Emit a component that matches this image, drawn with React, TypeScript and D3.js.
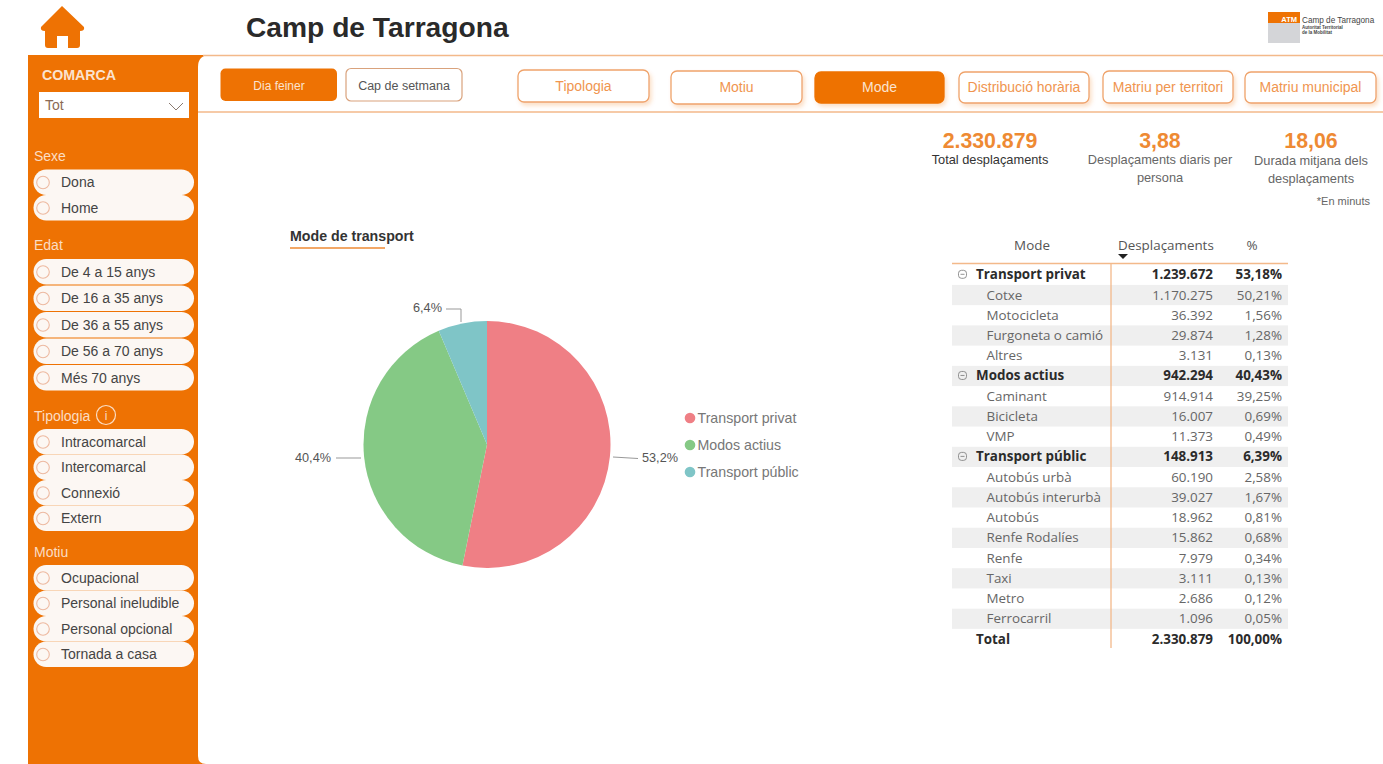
import React from "react";
import * as d3 from "d3";

const ORANGE = "#EE7203";
const LINE = "#F3B98A";
const SANS = "'Liberation Sans', Arial, sans-serif";
const TABLE_FONT = "'Open Sans', 'Noto Sans', sans-serif";

const pieLabels = ["Transport privat", "Modos actius", "Transport públic"];
const pieValues = [1239672, 942294, 148913];
const pieText = ["53,2%", "40,4%", "6,4%"];
const pieColors = ["#EF7F85", "#85C985", "#7FC5C7"];

const rowNames = ["Transport privat", "Cotxe", "Motocicleta", "Furgoneta o camió", "Altres", "Modos actius", "Caminant", "Bicicleta", "VMP", "Transport públic", "Autobús urbà", "Autobús interurbà", "Autobús", "Renfe Rodalíes", "Renfe", "Taxi", "Metro", "Ferrocarril", "Total"];
const rowValues = ["1.239.672", "1.170.275", "36.392", "29.874", "3.131", "942.294", "914.914", "16.007", "11.373", "148.913", "60.190", "39.027", "18.962", "15.862", "7.979", "3.111", "2.686", "1.096", "2.330.879"];
const rowPercents = ["53,18%", "50,21%", "1,56%", "1,28%", "0,13%", "40,43%", "39,25%", "0,69%", "0,49%", "6,39%", "2,58%", "1,67%", "0,81%", "0,68%", "0,34%", "0,13%", "0,12%", "0,05%", "100,00%"];
const groupRows = ["Transport privat", "Modos actius", "Transport públic"];

const filterGroups = [
  { title: "Sexe", y: 156, first: 182.5, items: ["Dona", "Home"] },
  { title: "Edat", y: 245, first: 272, items: ["De 4 a 15 anys", "De 16 a 35 anys", "De 36 a 55 anys", "De 56 a 70 anys", "Més 70 anys"] },
  { title: "Tipologia", y: 416, first: 442, items: ["Intracomarcal", "Intercomarcal", "Connexió", "Extern"] },
  { title: "Motiu", y: 552, first: 578, items: ["Ocupacional", "Personal ineludible", "Personal opcional", "Tornada a casa"] },
];
const filterSteps = [25.5, 26.5, 25.5, 25.5];

const navButtons = [
  { label: "Tipologia", x: 518, w: 131, y: 70, h: 32, active: false },
  { label: "Motiu", x: 671, w: 131, y: 71, h: 33, active: false },
  { label: "Mode", x: 815, w: 129, y: 72, h: 31, active: true },
  { label: "Distribució horària", x: 959, w: 130, y: 72, h: 31, active: false },
  { label: "Matriu per territori", x: 1103, w: 130, y: 71, h: 32, active: false },
  { label: "Matriu municipal", x: 1245, w: 131, y: 72, h: 31, active: false },
];

const kpis = [
  { value: "2.330.879", x: 990, lines: ["Total desplaçaments"], dark: true },
  { value: "3,88", x: 1160, lines: ["Desplaçaments diaris per", "persona"], dark: false },
  { value: "18,06", x: 1311, lines: ["Durada mitjana dels", "desplaçaments"], dark: false },
];

const legendY = [418, 445, 472];

export default function App() {
  const cx = 487, cy = 444.5, r = 123.5;
  const arcs = d3.pie<number>().sort(null)(pieValues);
  const arc = d3.arc<d3.PieArcDatum<number>>().innerRadius(0).outerRadius(r);
  const rowY = d3.scaleLinear().domain([0, rowNames.length - 1]).range([274.8, 639]);
  const rowH = 20.22;

  return (
    <svg width={1383} height={764} style={{ position: "fixed", left: 0, top: 0, background: "#fff" }} fontFamily={SANS}>
      <defs>
        <filter id="soft" x="-20%" y="-20%" width="140%" height="160%">
          <feDropShadow dx="2" dy="3" stdDeviation="2" floodColor="#EE7203" floodOpacity="0.22" />
        </filter>
      </defs>

      {/* header */}
      <path d="M41 27 L62 6 L84 27 Q85 31 80 31 L80 45 Q80 48 77 48 L68 48 L68 36 L57 36 L57 48 L48 48 Q45 48 45 45 L45 31 Q40 31 41 27 Z" fill={ORANGE} />
      <text x={246} y={37} fontSize={28.2} fontWeight={700} fill="#2a2a2a">Camp de Tarragona</text>
      <rect x={1268} y={12} width={32} height={31} fill="#D4D5D8" />
      <rect x={1268} y={12} width={32} height={11} fill={ORANGE} />
      <text x={1297} y={22} textAnchor="end" fontSize={7.5} fontWeight={700} fill="#fff">ATM</text>
      <text x={1302} y={23} fontSize={8.2} fill="#444">Camp de Tarragona</text>
      <text x={1302} y={29} fontSize={4.5} fontWeight={700} fill="#444">Autoritat Territorial</text>
      <text x={1302} y={34} fontSize={4.5} fontWeight={700} fill="#444">de la Mobilitat</text>

      {/* sidebar and panel */}
      <rect x={28} y={55} width={180} height={709} fill={ORANGE} />
      <path d="M198 764 L198 67 Q198 55 210 55 L1383 55 L1383 764 L206 764 Q198 764 198 756 Z" fill="#fff" />
      <line x1={203} x2={1383} y1={55.5} y2={55.5} stroke={LINE} strokeWidth={1.5} />
      <line x1={198} x2={1383} y1={112} y2={112} stroke={LINE} strokeWidth={1.5} />

      <text x={42} y={80} fontSize={14.2} fontWeight={700} fill="#FBE3CF">COMARCA</text>
      <rect x={39} y={92} width={150} height={26} fill="#fff" />
      <text x={45} y={110} fontSize={14} fill="#8A6A55">Tot</text>
      <path d="M169 103 L176 110 L183 103" fill="none" stroke="#8A7A70" strokeWidth={1} />

      {filterGroups.map((g, gi) => (
        <g key={g.title}>
          <text x={34} y={g.y + 5} fontSize={14} fill="#FBDDC4">{g.title}</text>
          {g.items.map((it, i) => {
            const y = g.first + i * filterSteps[gi];
            return (
              <g key={it}>
                <rect x={33.5} y={y - 13} width={160.5} height={25.5} rx={12.7} fill="#FCF7F3" />
                <circle cx={43} cy={y} r={6.3} fill="none" stroke="#EDB9A0" strokeWidth={1.1} />
                <text x={61} y={y + 4.7} fontSize={14} fill="#444">{it}</text>
              </g>
            );
          })}
        </g>
      ))}
      <circle cx={106} cy={415} r={9.5} fill="none" stroke="#FBDDC4" strokeWidth={1.2} />
      <text x={106} y={420} textAnchor="middle" fontSize={12} fill="#FBDDC4">i</text>

      {/* day buttons */}
      <rect x={220.5} y={68.5} width={116.5} height={32.5} rx={5} fill={ORANGE} />
      <text x={279} y={89.5} textAnchor="middle" fontSize={12} fill="#FBE3CF">Dia feiner</text>
      <rect x={346} y={68.5} width={116} height={32.5} rx={5} fill="#fff" stroke="#D9A27C" strokeWidth={1.2} />
      <text x={404} y={89.5} textAnchor="middle" fontSize={12.5} fill="#555">Cap de setmana</text>

      {/* nav buttons */}
      {navButtons.map((b) => (
        <g key={b.label}>
          <rect x={b.x} y={b.y} width={b.w} height={b.h} rx={6} fill={b.active ? ORANGE : "#fff"} stroke={b.active ? ORANGE : "#EFA36B"} strokeWidth={1.3} filter="url(#soft)" />
          <text x={b.x + b.w / 2} y={b.y + b.h / 2 + 4.5} textAnchor="middle" fontSize={14} fill={b.active ? "#FBE3CF" : "#F0954F"}>{b.label}</text>
        </g>
      ))}

      {/* KPIs */}
      {kpis.map((k) => (
        <g key={k.value}>
          <text x={k.x} y={148} textAnchor="middle" fontSize={21.3} fontWeight={700} fill="#EE8A33">{k.value}</text>
          {k.lines.map((l, i) => (
            <text key={l} x={k.x} y={(k.x > 1200 ? 165 : 164) + i * 18} textAnchor="middle" fontSize={12.8} fill={k.dark ? "#333" : "#666"}>{l}</text>
          ))}
        </g>
      ))}
      <text x={1370} y={205} textAnchor="end" fontSize={11} fill="#666">*En minuts</text>

      {/* pie */}
      <text x={290} y={241} fontSize={14.2} fontWeight={700} fill="#333">Mode de transport</text>
      <line x1={290} x2={385} y1={248} y2={248} stroke="#EE8A33" strokeWidth={1.5} />
      <g transform={`translate(${cx},${cy})`}>
        {arcs.map((a, i) => <path key={pieLabels[i]} d={arc(a) as string} fill={pieColors[i]} />)}
      </g>
      <path d="M613 457 L638 458.5" fill="none" stroke="#999" />
      <text x={642} y={462} fontSize={12.7} fill="#555">{pieText[0]}</text>
      <path d="M336 458 L361 458" fill="none" stroke="#999" />
      <text x={295} y={462} fontSize={12.7} fill="#555">{pieText[1]}</text>
      <path d="M446 309 L461 309 L461 322" fill="none" stroke="#999" />
      <text x={413} y={312} fontSize={12.7} fill="#555">{pieText[2]}</text>
      {pieLabels.map((l, i) => (
        <g key={l}>
          <circle cx={690} cy={legendY[i]} r={5.3} fill={pieColors[i]} />
          <text x={697.5} y={legendY[i] + 5} fontSize={14.2} fill="#777">{l}</text>
        </g>
      ))}

      {/* table */}
      <g fontFamily={TABLE_FONT} fontSize={13.4}>
        <text x={1032} y={250} textAnchor="middle" fill="#555">Mode</text>
        <text x={1118} y={250} fill="#555">Desplaçaments</text>
        <text x={1252} y={250} textAnchor="middle" fill="#555">%</text>
        <path d="M1118 254 L1128 254 L1123 259 Z" fill="#222" />
        {rowNames.map((n, i) => {
          const y = rowY(i);
          const isGroup = groupRows.includes(n);
          const bold = isGroup || n === "Total";
          return (
            <g key={n} fontWeight={bold ? 700 : 400} fill={bold ? "#2b2b2b" : "#666"}>
              {i % 2 === 1 && <rect x={952} y={y - rowH / 2} width={336} height={rowH} fill="#EFEFEF" />}
              {isGroup && (
                <g>
                  <rect x={958.5} y={y - 4.5} width={8} height={8} rx={3} fill="none" stroke="#777" strokeWidth={0.8} />
                  <line x1={960.5} x2={964.5} y1={y - 0.5} y2={y - 0.5} stroke="#777" strokeWidth={0.8} />
                </g>
              )}
              <text x={bold ? 976 : 986.5} y={y + 4.5}>{n}</text>
              <text x={1213} y={y + 4.5} textAnchor="end">{rowValues[i]}</text>
              <text x={1282} y={y + 4.5} textAnchor="end">{rowPercents[i]}</text>
            </g>
          );
        })}
        <line x1={952} x2={1288} y1={263.5} y2={263.5} stroke={LINE} strokeWidth={1.3} />
        <line x1={1111} x2={1111} y1={263.5} y2={648} stroke={LINE} strokeWidth={1.3} />
      </g>
    </svg>
  );
}
